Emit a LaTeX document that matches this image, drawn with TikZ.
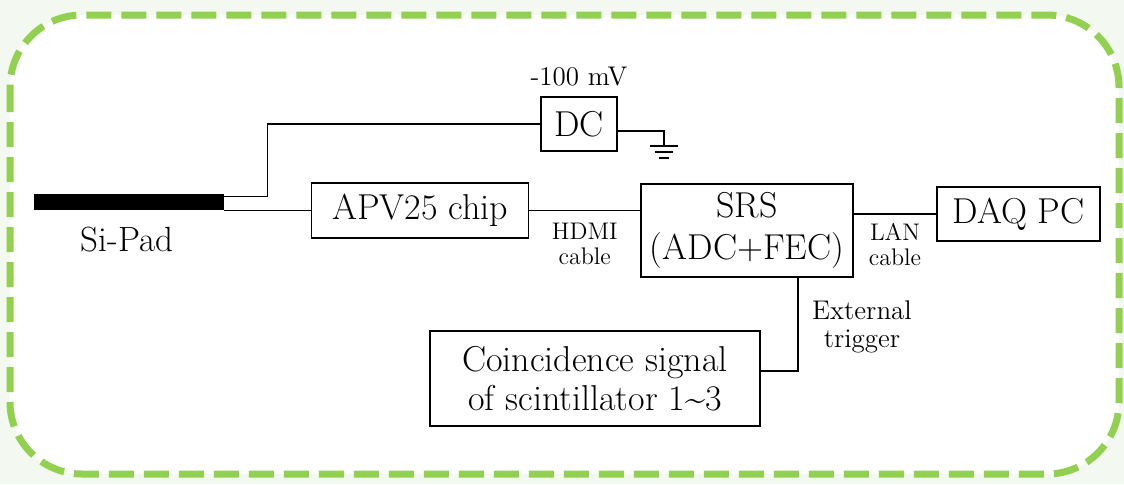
\documentclass[tikz,border=0pt]{standalone}
\usepackage{xcolor}
\usepackage{tikz}
\usetikzlibrary{positioning}
\definecolor{marco}{HTML}{92D050}
\definecolor{fondo}{HTML}{F3F8F0}

\begin{document}
\begin{tikzpicture}[
  x=0.5pt, y=-0.5pt,
  blk/.style={draw, line width=0.9pt, inner sep=0pt, align=center,
    font=\fontsize{18}{21}\selectfont},
  wire/.style={line width=0.75pt},
  tag/.style={align=center, inner sep=0pt, font=\fontsize{12}{12.5}\selectfont},
  bigtag/.style={align=center, inner sep=0pt, font=\fontsize{13.5}{14}\selectfont}
]
  \useasboundingbox (0,0) rectangle (1124,484);
  \fill[fondo] (0,0) rectangle (1124,484);
  \draw[marco, fill=white, line width=3.5pt, dash pattern=on 12.5pt off 5pt,
    rounded corners=36pt] (10,15) rectangle (1119,474);

  % detector and its read-out chain
  \node[fill=black, minimum width=95pt, minimum height=8pt, inner sep=0pt] (pad) at (129,202) {};
  \node[font=\fontsize{17.5}{19}\selectfont, inner sep=0pt] (padlbl) at (127,240) {Si-Pad};
  \node[blk, minimum width=108.5pt, minimum height=27.5pt] (apv) at (420,210.5) {APV25 chip};
  \node[blk, minimum width=38pt, minimum height=27pt] (dc) at (579,124) {DC};
  \node[bigtag, above=5pt of dc] (volt) {-100 mV};
  \node[blk, minimum width=106pt, minimum height=46.5pt] (srs) at (747,230.5) {SRS\\(ADC+FEC)};
  \node[blk, minimum width=81.5pt, minimum height=27pt] (daq) at (1018.5,214) {DAQ PC};
  \node[blk, minimum width=165pt, minimum height=47.5pt, font=\fontsize{18}{19.5}\selectfont]
    (coin) at (595,378.5) {Coincidence signal\\of scintillator 1\textasciitilde3};
  \node[bigtag] (trig) at (862,327) {External\\trigger};

  % connections
  \draw[wire] ([yshift=-1.5pt]pad.north east) -- ++(43,0) |- (dc.west);
  \draw[wire] (pad.east |- apv.west) -- (apv.west);
  \draw[wire] ([yshift=-3.5pt]dc.east) -- ++(46,0) coordinate (gnd) -- ++(0,15);
  \draw[wire] ([shift={(-14,15)}]gnd) -- ([shift={(14,15)}]gnd);
  \draw[wire] ([shift={(-9,21)}]gnd) -- ([shift={(9,21)}]gnd);
  \draw[wire] ([shift={(-5,27)}]gnd) -- ([shift={(5,27)}]gnd);
  \draw[wire] (apv.east) -- (apv.east -| srs.west)
    node[tag, midway, below=6pt] {HDMI\\cable};
  \draw[wire] (srs.east |- daq.west) -- (daq.west)
    node[tag, midway, below=4.5pt] {LAN\\cable};
  \draw[wire] ([xshift=25.5pt]srs.south) |- ([yshift=3.75pt]coin.east);
\end{tikzpicture}
\end{document}
